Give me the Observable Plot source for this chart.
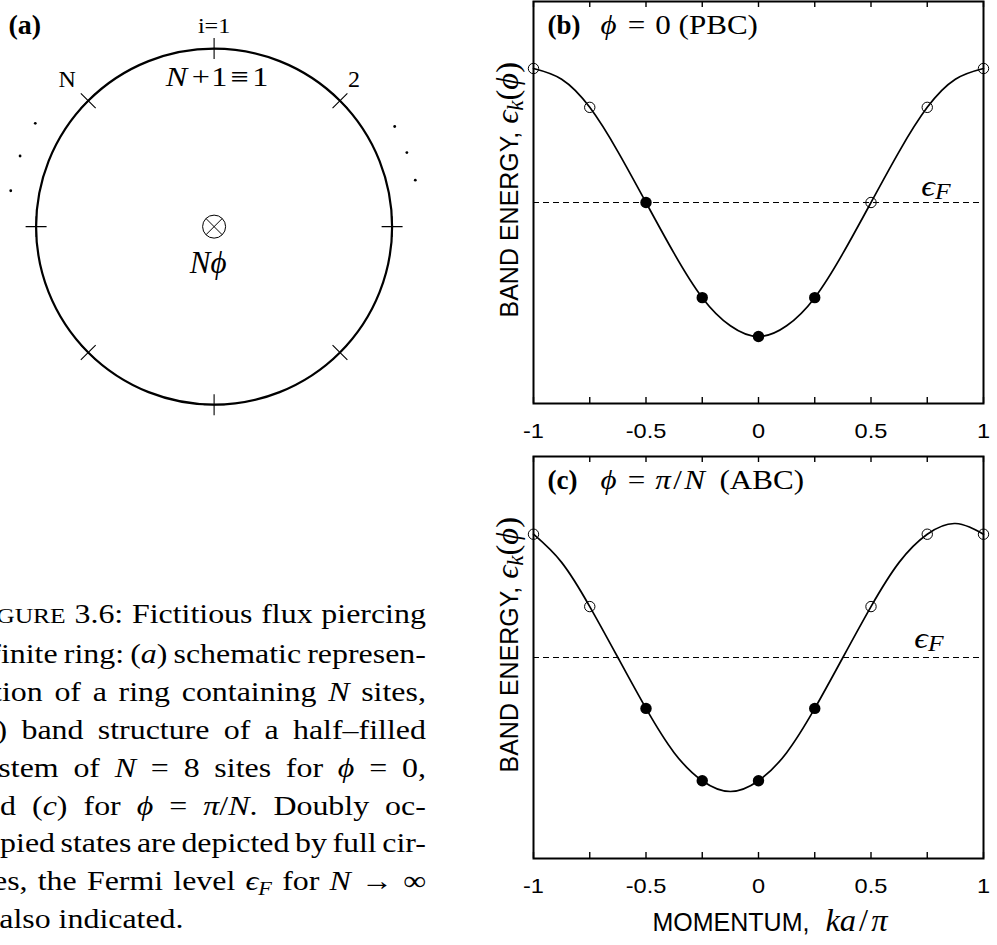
<!DOCTYPE html>
<html>
<head>
<meta charset="utf-8">
<script src="https://cdn.jsdelivr.net/npm/d3@7"></script>
<script src="https://cdn.jsdelivr.net/npm/@observablehq/plot@0.6"></script>
<style>
  html, body { margin: 0; padding: 0; background: #fff; }
  #page { position: relative; width: 997px; height: 945px; overflow: hidden; background: #fff; }
  .panel { position: absolute; }
  #caption {
    position: absolute; left: -30px; top: 595px; width: 393px;
    transform: scaleX(1.16); transform-origin: 0 0;
    font-family: "Liberation Serif", "Times New Roman", serif;
    font-size: 27.5px; line-height: 37.9px; color: #000;
  }
  #caption div { white-space: nowrap; text-align: left; }
  #caption div.justified { text-align: justify; text-align-last: justify; }
  #caption .sc { font-size: 0.8em; }
  #caption sub { font-size: 0.7em; vertical-align: -0.25em; line-height: 0; }
</style>
</head>
<body>
<div id="page">
  <div class="panel" id="ring" style="left:0;top:0"></div>
  <div class="panel" id="pbc" style="left:480px;top:0"></div>
  <div class="panel" id="abc" style="left:480px;top:440px"></div>
  <div id="caption">
    <div><span>F<span class="sc">IGURE</span> 3.6: Fictitious flux piercing</span></div>
    <div><span>a finite ring: (<i>a</i>) schematic represen-</span></div>
    <div><span>tation of a ring containing <i>N</i> sites,</span></div>
    <div><span>(<i>b</i>) band structure of a half–filled</span></div>
    <div><span>system of <i>N</i> = 8 sites for <i>ϕ</i> = 0,</span></div>
    <div><span>and (<i>c</i>) for <i>ϕ</i> = <i>π</i>/<i>N</i>. Doubly oc-</span></div>
    <div><span>cupied states are depicted by full cir-</span></div>
    <div><span>cles, the Fermi level <i>ϵ<sub>F</sub></i> for <i>N</i> → ∞</span></div>
    <div class="last"><span>is also indicated.</span></div>
  </div>
</div>
<script>
// ---------- data ----------
// ring of N = 8 sites, site angles in degrees (site i = 1 at the top)
const siteAngles = [90, 45, 0, -45, -90, -135, 180, 135];
// angular positions of the "..." marks between labelled sites
const ellipsisAngles = [150, 160, 170, 29, 21, 13];
const ringCenter = [{x: 0, y: 0}];

// momentum grid (ka/pi) and band energy
const kGrid = [-1, -0.875, -0.75, -0.625, -0.5, -0.375, -0.25, -0.125, 0,
               0.125, 0.25, 0.375, 0.5, 0.625, 0.75, 0.875, 1];
const bandPBC = [1, 0.92, 0.71, 0.38, 0, -0.38, -0.71, -0.92, -1,
                 -0.92, -0.71, -0.38, 0, 0.38, 0.71, 0.92, 1];
const bandABC = [0.92, 0.71, 0.38, 0, -0.38, -0.71, -0.92, -1, -0.92,
                 -0.71, -0.38, 0, 0.38, 0.71, 0.92, 1, 0.92];

// allowed k states of the N = 8 ring
const stateK = [-1, -0.75, -0.5, -0.25, 0, 0.25, 0.5, 0.75, 1];
const statePBC = [1, 0.71, 0, -0.71, -1, -0.71, 0, 0.71, 1];
const stateABC = [0.92, 0.38, -0.38, -0.92, -0.92, -0.38, 0.38, 0.92, 0.92];
const occupiedPBC = [0, 0, 1, 1, 1, 1, 0, 0, 0];
const occupiedABC = [0, 0, 1, 1, 1, 1, 0, 0, 0];
const fermiLevel = 0;

const kTicks = [-1, -0.75, -0.5, -0.25, 0, 0.25, 0.5, 0.75, 1];
const kLabels = [-1, -0.5, 0, 0.5, 1];

// ---------- helpers ----------
const SERIF = '"Liberation Serif", "Times New Roman", "DejaVu Serif", serif';
const SANS = '"Liberation Sans", Arial, Helvetica, sans-serif';
const SVGNS = "http://www.w3.org/2000/svg";
const rad = a => a * Math.PI / 180;

// inline markup for labels:
//  {b:..} bold, {i:..} italic, {m:..} serif italic, {r:..} serif roman,
//  {s:..} italic subscript, {M:..}/{R:..}/{S:..} larger serif math,
//  {g:n} gap in px, {x:f} widen the whole label by factor f
const TOKEN_SIZE = {t: 1, b: 1, i: 1, m: 1, r: 1, s: 0.76, M: 1.3, R: 1.3, S: 0.92};
const TOKEN_DROP = {s: 0.12, S: 0.22};
function rich(svg) {
  svg.querySelectorAll("text").forEach(el => {
    const src = el.textContent;
    if (!src.includes("{")) return;
    el.textContent = "";
    const re = /\{(\w+):([^}]*)\}|([^{]+)/g;
    let m, gap = 0, down = 0, widen = 1;
    while ((m = re.exec(src))) {
      const kind = m[1] || "t", body = m[1] ? m[2] : m[3];
      if (kind === "g") { gap += +body; continue; }
      if (kind === "x") { widen = +body; continue; }
      const ts = document.createElementNS(SVGNS, "tspan");
      ts.textContent = body;
      const size = TOKEN_SIZE[kind] ?? 1;
      const target = TOKEN_DROP[kind] ?? 0;
      const dy = (target - down) / size;
      down = target;
      if (dy) ts.setAttribute("dy", dy.toFixed(3) + "em");
      if (gap) { ts.setAttribute("dx", gap); gap = 0; }
      if (size !== 1) ts.setAttribute("font-size", Math.round(size * 100) + "%");
      if (kind === "b") ts.setAttribute("font-weight", "bold");
      if ("imsMS".includes(kind)) ts.setAttribute("font-style", "italic");
      if ("mrsMRS".includes(kind)) ts.setAttribute("font-family", SERIF);
      el.appendChild(ts);
    }
    if (widen !== 1) {
      const xa = el.getAttribute("x");
      let pre = "";
      if (xa !== null && !isNaN(+xa)) { pre = `translate(${+xa},0) `; el.removeAttribute("x"); }
      el.setAttribute("transform", `${el.getAttribute("transform") || ""} ${pre}scale(${widen},1)`);
    }
  });
  return svg;
}

// ---------- (a) the ring ----------
const W_A = 445, H_A = 422;
const xDomA = [-1.2, 1.3], yDomA = [-1.1, 1.27];
const pxPerUnit = W_A / (xDomA[1] - xDomA[0]);
const ringR = 1;
const siteX = a => ringR * Math.cos(rad(a));
const siteY = a => ringR * Math.sin(rad(a));
const label = (angle, text, dx, dy, opts = {}) =>
  Plot.text([angle], {x: siteX, y: siteY, text: () => text, dx, dy,
    lineAnchor: "bottom", fontFamily: SERIF, fontSize: 24, ...opts});

const ringPlot = Plot.plot({
  width: W_A, height: H_A, margin: 0,
  x: {domain: xDomA, axis: null},
  y: {domain: yDomA, axis: null},
  style: {overflow: "visible", background: "transparent"},
  marks: [
    Plot.dot(ringCenter, {x: "x", y: "y", r: ringR * pxPerUnit, fill: "none", stroke: "#000", strokeWidth: 2.2}),
    Plot.dot(siteAngles.filter(a => a % 90 === 0), {x: siteX, y: siteY, symbol: "plus", r: 6.8, stroke: "#000", strokeWidth: 1.1, fill: "none"}),
    Plot.dot(siteAngles.filter(a => a % 90 !== 0), {x: siteX, y: siteY, symbol: "times", r: 6.8, stroke: "#000", strokeWidth: 1.1, fill: "none"}),
    Plot.dot(ellipsisAngles, {x: a => 1.16 * Math.cos(rad(a)), y: a => 1.16 * Math.sin(rad(a)), r: 1.4, fill: "#000", stroke: "none"}),
    // flux through the ring
    Plot.dot(ringCenter, {x: "x", y: "y", r: 11.5, fill: "none", stroke: "#000", strokeWidth: 1}),
    Plot.dot(ringCenter, {x: "x", y: "y", symbol: "times", r: 7.45, fill: "none", stroke: "#000", strokeWidth: 1}),
    Plot.text(ringCenter, {x: "x", y: "y", text: () => "{i:Nϕ}", dx: -6, dy: 46, lineAnchor: "bottom",
      fontFamily: SERIF, fontSize: 31}),
    label(90, "{x:1.15}i=1", 0, -16, {fontSize: 21}),
    label(90, "{x:1.15}{i:N}{g:4}+{g:1}1{g:3}≡{g:3}1", 3, 37, {fontSize: 28}),
    label(45, "2", 14, -14),
    label(135, "N", -21, -14),
    Plot.text(["(a)"], {frameAnchor: "top-left", textAnchor: "start", lineAnchor: "bottom", dx: 8, dy: 33,
      fontFamily: SERIF, fontSize: 28, fontWeight: "bold"})
  ]
});
document.getElementById("ring").appendChild(rich(ringPlot));

// ---------- (b), (c) band structure ----------
function bandPanel({band, states, occupied, tag, title, height, marginTop, marginBottom, fermiDx, fermiDy, xLabel}) {
  const curve = kGrid.map((k, i) => ({k, e: band[i]}));
  const pts = stateK.map((k, i) => ({k, e: states[i], occ: occupied[i]}));
  const frameH = height - marginTop - marginBottom;
  const marks = [
    Plot.ruleY([fermiLevel], {y: d => d, stroke: "#000", strokeWidth: 1, strokeDasharray: "6,4"}),
    Plot.line(curve, {x: "k", y: "e", curve: "natural", stroke: "#000", strokeWidth: 1.7}),
    Plot.dot(pts.filter(d => !d.occ), {x: "k", y: "e", r: 5.2, fill: "none", stroke: "#000", strokeWidth: 1}),
    Plot.dot(pts.filter(d => d.occ), {x: "k", y: "e", r: 5.7, fill: "#000", stroke: "none"}),
    Plot.ruleX(kTicks, {x: d => d, insetTop: frameH - 6, stroke: "#000", strokeWidth: 1.4}),
    Plot.ruleX(kTicks, {x: d => d, insetBottom: frameH - 6, stroke: "#000", strokeWidth: 1.4}),
    Plot.frame({stroke: "#000", strokeWidth: 2}),
    Plot.text(kLabels, {x: d => d, frameAnchor: "bottom", lineAnchor: "bottom", dy: 34,
      text: d => `{x:1.18}${d}`, fontFamily: SANS, fontSize: 20}),
    Plot.text([tag], {frameAnchor: "top-left", textAnchor: "start", lineAnchor: "bottom", dx: 14, dy: 32,
      text: d => d, fontFamily: SERIF, fontSize: 27, fontWeight: "bold"}),
    Plot.text([title], {frameAnchor: "top-left", textAnchor: "start", lineAnchor: "bottom", dx: 67, dy: 32,
      text: d => `{x:1.15}${d}`, fontFamily: SERIF, fontSize: 27}),
    Plot.text([fermiLevel], {y: d => d, frameAnchor: "right", textAnchor: "end", lineAnchor: "bottom",
      dx: fermiDx, dy: fermiDy, text: () => "{x:1.12}{i:ϵ}{s:F}", fontFamily: SERIF, fontSize: 30}),
    Plot.text(["BAND ENERGY,{g:8}{M:ϵ}{S:k}{R:(}{M:ϕ}{R:)}"], {frameAnchor: "left", rotate: -90,
      textAnchor: "start", lineAnchor: "bottom", dx: -16, dy: 115, text: d => d, fontFamily: SANS, fontSize: 25})
  ];
  if (xLabel) marks.push(
    Plot.text([xLabel], {frameAnchor: "bottom-left", textAnchor: "start", lineAnchor: "bottom", dx: 119, dy: 72,
      text: d => d, fontFamily: SANS, fontSize: 25})
  );
  return rich(Plot.plot({
    width: 517, height, marginLeft: 53, marginRight: 14, marginTop, marginBottom,
    x: {domain: [-1, 1], axis: null},
    y: {domain: [-1.5, 1.5], axis: null},
    style: {overflow: "visible", background: "transparent"},
    marks
  }));
}

document.getElementById("pbc").appendChild(bandPanel({
  band: bandPBC, states: statePBC, occupied: occupiedPBC,
  tag: "(b)", title: "{i:ϕ}{g:3} = {g:2}0 (PBC)",
  height: 450, marginTop: 1, marginBottom: 47, fermiDx: -33, fermiDy: -7
}));

document.getElementById("abc").appendChild(bandPanel({
  band: bandABC, states: stateABC, occupied: occupiedABC,
  tag: "(c)", title: "{i:ϕ}{g:3} = {g:2}{i:π}{g:2}/{g:2}{i:N}{g:6} (ABC)",
  height: 505, marginTop: 16, marginBottom: 87, fermiDx: -40, fermiDy: -10,
  xLabel: "MOMENTUM,{g:16}{M:k}{M:a}{g:3}{R:/}{g:3}{M:π}"
}));

// ---------- caption: justify each line to the column width ----------
(function justifyCaption() {
  const box = document.getElementById("caption");
  const target = box.clientWidth;
  box.querySelectorAll("div").forEach(div => {
    if (div.classList.contains("last")) return;
    const span = div.firstElementChild;
    const natural = span.offsetWidth;
    const spaces = (span.textContent.match(/ /g) || []).length;
    if (natural > target - 2 && spaces) {
      div.style.wordSpacing = ((target - 2 - natural) / spaces).toFixed(2) + "px";
    }
    div.classList.add("justified");
  });
})();
</script>
</body>
</html>
